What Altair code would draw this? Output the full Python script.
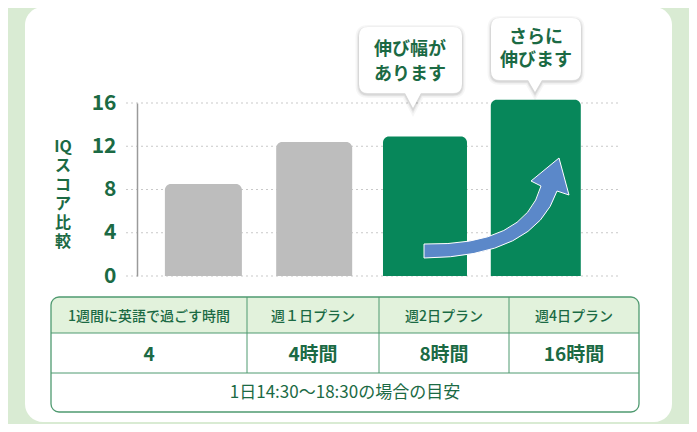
import altair as alt
import pandas as pd

# ---------------- data ----------------
plans = ["1週間に英語で過ごす時間", "週１日プラン", "週2日プラン", "週4日プラン"]
hours = ["4", "4時間", "8時間", "16時間"]
note = "1日14:30～18:30の場合の目安"
iq_values = [8.5, 12.4, 12.9, 16.3]
y_ticks = [0, 4, 8, 12, 16]
y_title = ["IQ", "ス", "コ", "ア", "比", "較"]
callout_texts = [["伸び幅が", "あります"], ["さらに", "伸びます"]]

# ---------------- styles / layout ----------------
bar_colors = ["#bdbdbd", "#bdbdbd", "#07875a", "#07875a"]
bar_widths = [77, 76, 84, 90]
DARK = "#1b6a44"
FONT = "Noto Sans CJK JP"
OX, OY = 137, 103          # page position of the plot origin
W, H = 483, 173            # plot area


def px(x):
    return x - OX


def py(y):
    return y - OY


one = pd.DataFrame({"k": [0]})

# white card
card = alt.Chart(one).mark_rect(cornerRadius=18, fill="white").encode(
    x=alt.value(px(25)), x2=alt.value(px(672)),
    y=alt.value(py(7)), y2=alt.value(py(422)))

# y title (stacked as one multi-line text)
ytitle = alt.Chart(one).mark_text(
    text=y_title, font=FONT, fontSize=16, fontWeight="bold", color=DARK,
    lineHeight=19, baseline="top", align="center").encode(
    x=alt.value(px(63)), y=alt.value(py(139)))

# gridlines
grid = alt.Chart(pd.DataFrame({"t": y_ticks})).mark_rule(
    strokeDash=[2, 3], color="#c9c9c9", strokeWidth=1).encode(
    y=alt.Y("t:Q", scale=alt.Scale(domain=[0, 16], nice=False), axis=None),
    x=alt.value(px(126)), x2=alt.value(px(620)))

# bars
bar_df = pd.DataFrame({"plan": plans, "iq": iq_values, "w": bar_widths})
bars = alt.Chart(bar_df).mark_bar(cornerRadiusTopLeft=6, cornerRadiusTopRight=6).encode(
    x=alt.X("plan:N", sort=plans, axis=None,
            scale=alt.Scale(paddingInner=0.25, paddingOuter=0.3046, align=0.368)),
    y=alt.Y("iq:Q", scale=alt.Scale(domain=[0, 16], nice=False),
            axis=alt.Axis(values=y_ticks, grid=False, ticks=False, title=None,
                          domainColor="#9a9a9a", domainWidth=1.5,
                          labelFont=FONT, labelFontSize=21, labelFontWeight="bold",
                          labelColor=DARK, labelPadding=21, zindex=1)),
    color=alt.Color("plan:N", scale=alt.Scale(domain=plans, range=bar_colors), legend=None),
    size=alt.Size("w:Q", scale=None, legend=None))


def shape_path(points_cmds, cx, cy, k):
    out = []
    for item in points_cmds:
        if isinstance(item, str):
            out.append(item)
        else:
            x, y = item
            out.append(f"{(x - cx) / k:.4f},{(y - cy) / k:.4f}")
    return " ".join(out)


# arrow
acx, acy, ak = 496, 208, 50
arrow_cmds = ["M", (424, 244), "Q", (525, 246), (541, 186), "L", (531, 181),
              "L", (559, 158), "L", (569, 195), "L", (557, 191),
              "Q", (535, 257), (424, 258), "Z"]
arrow = alt.Chart(one).mark_point(
    shape=shape_path(arrow_cmds, acx, acy, ak), size=(2 * ak) ** 2, filled=True,
    fill="#5b88c9", stroke="white", strokeWidth=1, opacity=1).encode(
    x=alt.value(px(acx)), y=alt.value(py(acy)))


def callout_cmds(l, t, r, b, pc, hw, tip, rr=9):
    return ["M", (l + rr, t), "L", (r - rr, t), "Q", (r, t), (r, t + rr),
            "L", (r, b - rr), "Q", (r, b), (r - rr, b), "L", (pc + hw, b),
            "L", (pc, tip), "L", (pc - hw, b), "L", (l + rr, b),
            "Q", (l, b), (l, b - rr), "L", (l, t + rr), "Q", (l, t), (l + rr, t), "Z"]


boxes = [(359, 27, 462, 93, 413, 8, 108), (491, 18, 581, 80, 535, 7, 92)]
callout_layers = []
ck = 60
for (l, t, r, b, pc, hw, tip) in boxes:
    cx, cy = (l + r) / 2, (t + b) / 2
    path = shape_path(callout_cmds(l, t, r, b, pc, hw, tip), cx, cy, ck)
    for sw, op in [(7, 0.035), (4, 0.05), (2, 0.07)]:
        callout_layers.append(alt.Chart(one).mark_point(
            shape=path, size=(2 * ck) ** 2, filled=False, stroke="#000000",
            strokeWidth=sw, strokeOpacity=op, fillOpacity=0, opacity=1).encode(
            x=alt.value(px(cx)), y=alt.value(py(cy + 1.5))))
    callout_layers.append(alt.Chart(one).mark_point(
        shape=path, size=(2 * ck) ** 2, filled=True, fill="white",
        strokeWidth=0, opacity=1).encode(x=alt.value(px(cx)), y=alt.value(py(cy))))

callout_pos = [(410, [50, 75]), (536, [38, 61])]
ct_rows = []
for (cx, ys), lines in zip(callout_pos, callout_texts):
    for yy, s in zip(ys, lines):
        ct_rows.append({"t": s, "x": px(cx), "y": py(yy)})
callout_text = alt.Chart(pd.DataFrame(ct_rows)).mark_text(
    font=FONT, fontSize=18, fontWeight="bold", color=DARK, baseline="middle").encode(
    x=alt.X("x:Q", scale=None, axis=None), y=alt.Y("y:Q", scale=None, axis=None),
    text="t:N")

# table
TL, TR, TT, TB = 51, 639, 297, 412
col_bounds = [51, 247, 379, 509, 639]
row_bounds = [297, 333, 373, 412]
TBORDER = "#4f9a70"

header_bg = alt.Chart(one).mark_rect(
    fill="#e2f2dc", cornerRadiusTopLeft=8, cornerRadiusTopRight=8).encode(
    x=alt.value(px(TL)), x2=alt.value(px(TR)), y=alt.value(py(TT)), y2=alt.value(py(row_bounds[1])))

lines = []
for yy in row_bounds[1:3]:
    lines.append({"x": px(TL), "x2": px(TR), "y": py(yy), "y2": py(yy)})
for xx in col_bounds[1:4]:
    lines.append({"x": px(xx), "x2": px(xx), "y": py(TT), "y2": py(row_bounds[2])})
table_lines = alt.Chart(pd.DataFrame(lines)).mark_rule(color=TBORDER, strokeWidth=1).encode(
    x=alt.X("x:Q", scale=None, axis=None), x2="x2:Q",
    y=alt.Y("y:Q", scale=None, axis=None), y2="y2:Q")

border = alt.Chart(one).mark_rect(
    cornerRadius=8, fillOpacity=0, stroke=TBORDER, strokeWidth=1.3).encode(
    x=alt.value(px(TL)), x2=alt.value(px(TR)), y=alt.value(py(TT)), y2=alt.value(py(TB)))

centers = [(col_bounds[i] + col_bounds[i + 1]) / 2 for i in range(4)]
head_df = pd.DataFrame({"t": plans, "x": [px(c) for c in centers], "y": [py(317)] * 4})
hours_df = pd.DataFrame({"t": hours, "x": [px(c) for c in centers], "y": [py(355)] * 4})
note_df = pd.DataFrame({"t": [note], "x": [px((TL + TR) / 2)], "y": [py(393)]})


def tlayer(df, size, weight):
    return alt.Chart(df).mark_text(
        font=FONT, fontSize=size, fontWeight=weight, color=DARK, baseline="middle").encode(
        x=alt.X("x:Q", scale=None, axis=None), y=alt.Y("y:Q", scale=None, axis=None),
        text="t:N")


table_text = [tlayer(head_df, 14, 500), tlayer(hours_df, 19, "bold"), tlayer(note_df, 17, "normal")]

chart = alt.layer(
    card, ytitle, grid, bars, arrow, *callout_layers, callout_text,
    header_bg, table_lines, border, *table_text
).resolve_scale(
    x="independent", y="independent", color="independent", size="independent"
).properties(
    width=W, height=H,
    padding={"left": OX - 8, "top": OY - 8, "right": 681 - (OX - 8) - W, "bottom": 416 - (OY - 8) - H},
    autosize=alt.AutoSizeParams(type="none")
).configure(background="#d9ebd3").configure_view(stroke=None)

chart.save("out.html", embed_options={"renderer": "svg", "actions": False})
